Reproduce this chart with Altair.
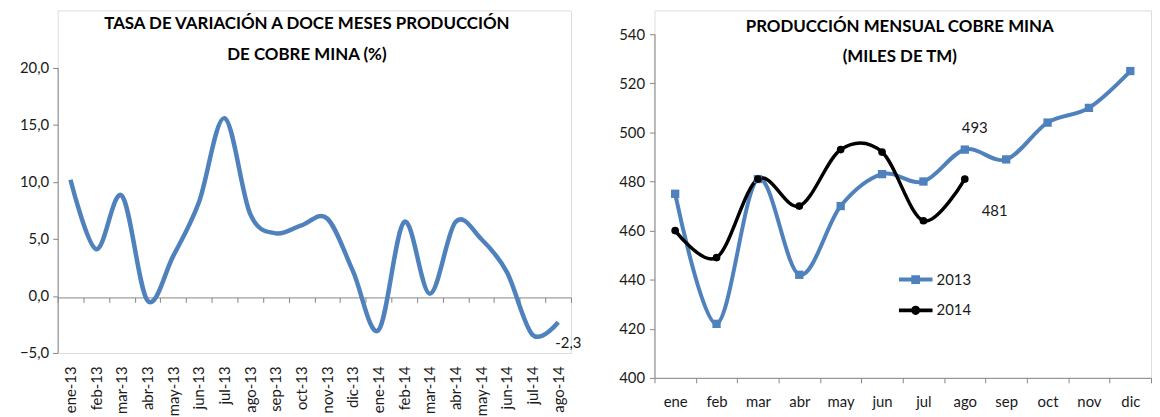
import altair as alt
import pandas as pd

# ---------------- data ----------------
meses_tasa = ["ene-13", "feb-13", "mar-13", "abr-13", "may-13", "jun-13", "jul-13",
              "ago-13", "sep-13", "oct-13", "nov-13", "dic-13", "ene-14", "feb-14",
              "mar-14", "abr-14", "may-14", "jun-14", "jul-14", "ago-14"]
tasa = [10.2, 4.1, 8.8, -0.4, 3.5, 8.2, 15.6, 7.2, 5.5, 6.2, 6.8, 2.2, -3.0, 6.5,
        0.2, 6.5, 5.0, 2.1, -3.4, -2.3]

meses = ["ene", "feb", "mar", "abr", "may", "jun", "jul", "ago", "sep", "oct", "nov", "dic"]
prod_2013 = [475, 422, 481, 442, 470, 483, 480, 493, 489, 504, 510, 525]
prod_2014 = [460, 449, 481, 470, 493, 492, 464, 481]
series = ["2013", "2014"]

tasa_ticks = [-5, 0, 5, 10, 15, 20]
prod_ticks = [400, 420, 440, 460, 480, 500, 520, 540]

BLUE = "#4F81BD"
GRAY = "#868686"
TXT = "#1a1a1a"
FONT = "Lato"

# ---------------- left panel ----------------
df_t = pd.DataFrame({"mes": meses_tasa, "tasa": tasa})
df_t_lab = pd.DataFrame({"mes": [meses_tasa[-1]], "tasa": [tasa[-1]], "txt": ["-2,3"]})
df_t_dom = pd.DataFrame({"tasa": [tasa_ticks[0], tasa_ticks[-1]]})

x_left = alt.X(
    "mes:N", sort=meses_tasa,
    scale=alt.Scale(type="band", paddingInner=0, paddingOuter=0, domain=meses_tasa),
    axis=alt.Axis(title=None, labelAngle=-90, offset=-56, tickBand="extent", tickSize=5,
                  labelPadding=64, domainColor=GRAY, tickColor=GRAY, labelFontSize=15,
                  labelFont=FONT, labelColor=TXT, grid=False),
)
y_left = alt.Y(
    "tasa:Q",
    scale=alt.Scale(domain=[-5, 25.05], nice=False, zero=False),
    axis=alt.Axis(title=None, values=tasa_ticks, domain=False, tickSize=5, tickColor=GRAY,
                  labelPadding=4, grid=False, minExtent=49, maxExtent=49,
                  labelExpr="replace(format(datum.value,'.1f'),'.',',')",
                  labelFontSize=15, labelFont=FONT, labelColor=TXT),
)

left_line = alt.Chart(df_t).mark_line(interpolate="cardinal", color=BLUE, strokeWidth=4.5).encode(
    x=x_left, y=y_left)
left_dom = alt.Chart(df_t_dom).mark_line(color=GRAY, strokeWidth=1).encode(
    x=alt.value(0.5), y=y_left)
left_lab = alt.Chart(df_t_lab).mark_text(align="left", dx=-3, dy=21, fontSize=15, font=FONT,
                                         color=TXT).encode(
    x=x_left, y=y_left, text="txt:N")
left_title = alt.Chart(pd.DataFrame({"t": ["TASA DE VARIACIÓN A DOCE MESES PRODUCCIÓN\nDE COBRE MINA (%)"]})).mark_text(
    fontSize=17, font=FONT, fontWeight="bold", color="#000", lineBreak="\n", lineHeight=31,
    baseline="middle", align="center").encode(
    x=alt.value(251), y=alt.value(14), text="t:N")

left = alt.layer(left_line, left_dom, left_lab, left_title).properties(width=517, height=345)

# ---------------- right panel ----------------
rows = []
for m, v in zip(meses, prod_2013):
    rows.append({"mes": m, "valor": v, "serie": "2013"})
for m, v in zip(meses, prod_2014):
    rows.append({"mes": m, "valor": v, "serie": "2014"})
df_p = pd.DataFrame(rows)
df_13 = df_p[df_p.serie == "2013"]
df_14 = df_p[df_p.serie == "2014"]
df_p_dom = pd.DataFrame({"valor": [prod_ticks[0], prod_ticks[-1]]})
df_lab13 = pd.DataFrame({"mes": [meses[7]], "valor": [prod_2013[7]], "txt": [str(prod_2013[7])]})
df_lab14 = pd.DataFrame({"mes": [meses[7]], "valor": [prod_2014[7]], "txt": [str(prod_2014[7])]})

x_right = alt.X(
    "mes:N", sort=meses,
    scale=alt.Scale(type="band", paddingInner=0, paddingOuter=0, domain=meses),
    axis=alt.Axis(title=None, labelAngle=0, tickBand="extent", tickSize=5, labelPadding=12,
                  domainColor=GRAY, tickColor=GRAY, labelFontSize=15, labelFont=FONT,
                  labelColor=TXT, grid=False),
)
y_right = alt.Y(
    "valor:Q",
    scale=alt.Scale(domain=[400, 549.71], nice=False, zero=False),
    axis=alt.Axis(title=None, values=prod_ticks, domain=False, tickSize=5, tickColor=GRAY,
                  labelPadding=5, grid=False, labelFontSize=15, labelFont=FONT, labelColor=TXT),
)

path13 = ("M-1,-0.12L1,-0.12L1,0.12L-1,0.12Z "
          "M-0.26,-0.26L0.26,-0.26L0.26,0.26L-0.26,0.26Z")
path14 = ("M-1,-0.11L1,-0.11L1,0.11L-1,0.11Z "
          "M0.27,0A0.27,0.27,0,1,1,-0.27,0A0.27,0.27,0,1,1,0.27,0Z")

leg = alt.Legend(title=None, orient="none", legendX=847, legendY=257, symbolSize=1156,
                 symbolOpacity=1, symbolStrokeWidth=0, clipHeight=28, rowPadding=3,
                 labelFontSize=15, labelFont=FONT, labelColor=TXT, labelOffset=4, padding=0)

r_dom = alt.Chart(df_p_dom).mark_line(color=GRAY, strokeWidth=1).encode(
    x=alt.value(0.5), y=y_right)
l13 = alt.Chart(df_13).mark_line(interpolate="cardinal", color=BLUE, strokeWidth=4).encode(
    x=x_right, y=y_right)
p13 = alt.Chart(df_13).mark_square(size=70, color=BLUE, opacity=1).encode(
    x=x_right, y=y_right)
l14 = alt.Chart(df_14).mark_line(interpolate="cardinal", color="#000", strokeWidth=3.5).encode(
    x=x_right, y=y_right)
p14 = alt.Chart(df_14).mark_circle(size=60, color="#000", opacity=1).encode(
    x=x_right, y=y_right)
ghost = alt.Chart(df_p).mark_point(filled=True, opacity=0).encode(
    x=x_right, y=y_right,
    color=alt.Color("serie:N", scale=alt.Scale(domain=series, range=[BLUE, "#000000"]), legend=leg),
    shape=alt.Shape("serie:N", scale=alt.Scale(domain=series, range=[path13, path14]), legend=leg),
)
lab13 = alt.Chart(df_lab13).mark_text(fontSize=15, font=FONT, color=TXT, dx=10, dy=-22).encode(
    x=x_right, y=y_right, text="txt:N")
lab14 = alt.Chart(df_lab14).mark_text(fontSize=15, font=FONT, color=TXT, dx=30, dy=32).encode(
    x=x_right, y=y_right, text="txt:N")
right_title = alt.Chart(pd.DataFrame({"t": ["PRODUCCIÓN MENSUAL COBRE MINA\n(MILES DE TM)"]})).mark_text(
    fontSize=17, font=FONT, fontWeight="bold", color="#000", lineBreak="\n", lineHeight=30,
    baseline="middle", align="center").encode(
    x=alt.value(247), y=alt.value(17), text="t:N")

right = alt.layer(l13, r_dom, l14, p13, p14, ghost, lab13, lab14, right_title).properties(
    width=500, height=370)

chart = alt.hconcat(left, right, spacing=84, bounds="flush").properties(padding=0).configure_view(
    stroke="transparent", strokeWidth=0).configure(font=FONT)

chart.save("out.html", embed_options={"renderer": "svg", "actions": False})
